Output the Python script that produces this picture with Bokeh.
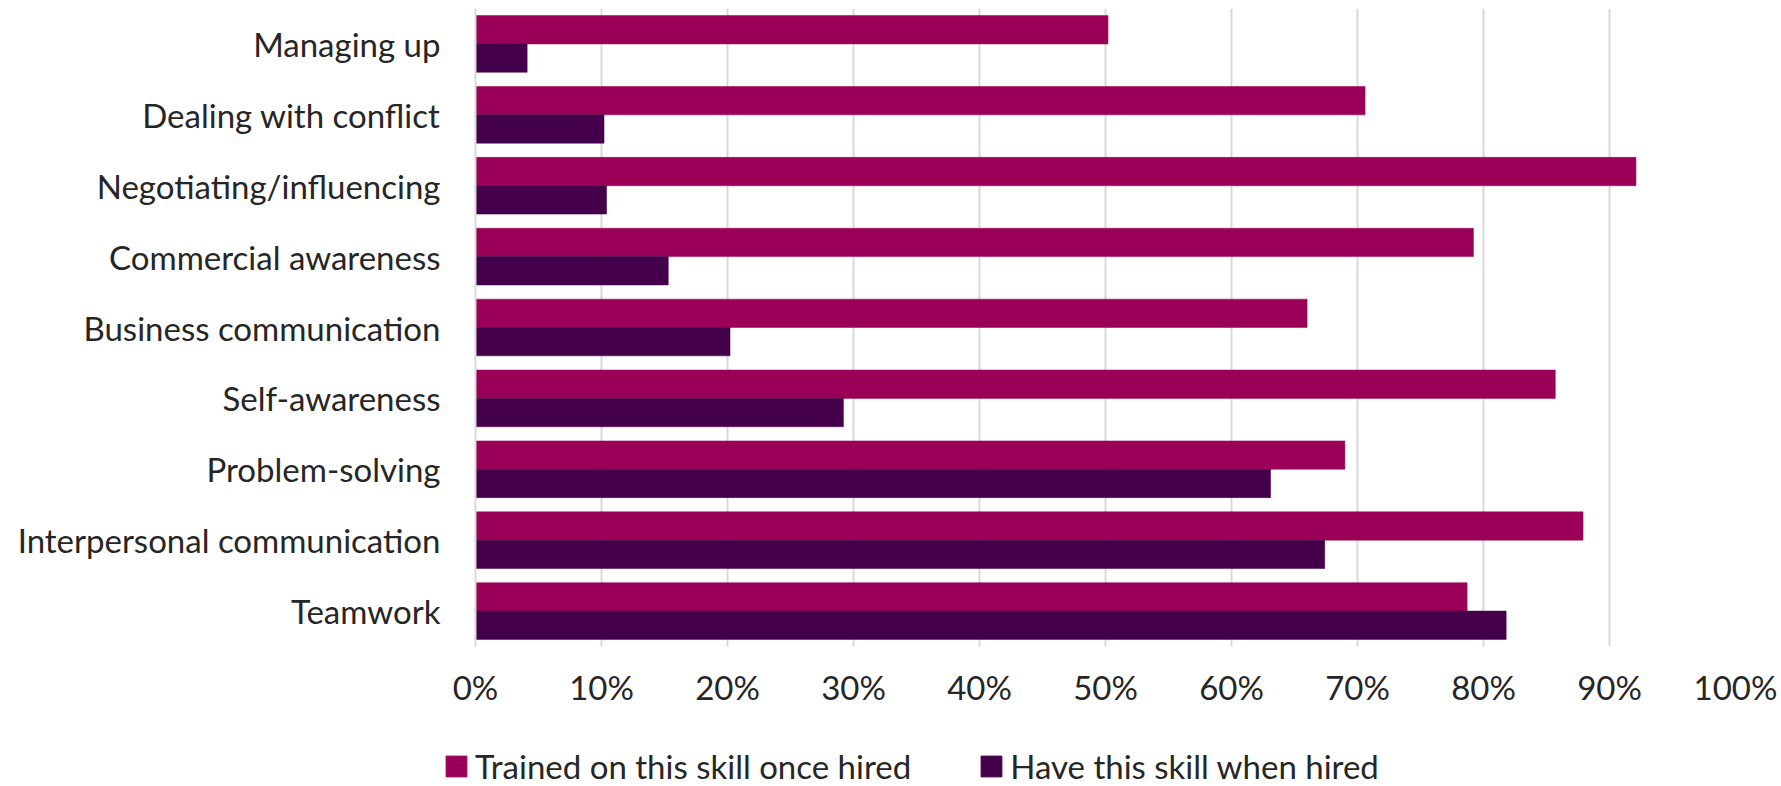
from bokeh.plotting import figure
from bokeh.models import (FactorRange, Range1d, Legend, LegendItem, FixedTicker,
                          PrintfTickFormatter, ColumnDataSource)
from bokeh.layouts import column
from bokeh.transform import dodge
from bokeh.embed import file_html
from bokeh.resources import INLINE

# ---- data (top to bottom as in the chart) ----
skills = ["Managing up", "Dealing with conflict", "Negotiating/influencing",
          "Commercial awareness", "Business communication", "Self-awareness",
          "Problem-solving", "Interpersonal communication", "Teamwork"]
trained = [50.2, 70.6, 92.1, 79.2, 66.0, 85.7, 69.0, 87.9, 78.7]
have = [4.1, 10.2, 10.4, 15.3, 20.2, 29.2, 63.1, 67.4, 81.8]
x_ticks = [0, 10, 20, 30, 40, 50, 60, 70, 80, 90, 100]
series_names = ["Trained on this skill once hired", "Have this skill when hired"]
colors = ["#9A0058", "#44004B"]

FONT = "Lato"
TXT = "#262626"
FS = "33px"

src = ColumnDataSource(dict(skill=skills, trained=trained, have=have))

factors = list(reversed(skills))
p = figure(width=1781, height=720, y_range=FactorRange(*factors, range_padding=0),
           x_range=Range1d(0, 100), output_backend="svg", toolbar_location=None,
           min_border_left=475, min_border_right=46, min_border_top=8,
           min_border_bottom=74)
p.outline_line_color = None
p.frame_align = False

p.hbar(y=dodge("skill", 0.2, range=p.y_range), right="trained", left=0, height=0.4,
       source=src, fill_color=colors[0], line_color=colors[0], line_width=0.5)
p.hbar(y=dodge("skill", -0.2, range=p.y_range), right="have", left=0, height=0.4,
       source=src, fill_color=colors[1], line_color=colors[1], line_width=0.5)

# x axis
p.xaxis.ticker = FixedTicker(ticks=x_ticks)
p.xaxis.formatter = PrintfTickFormatter(format="%d%%")
p.xaxis.axis_line_color = None
p.xaxis.major_tick_line_color = None
p.xaxis.minor_tick_line_color = None
p.xaxis.major_tick_out = 0
p.xaxis.major_tick_in = 0
p.xaxis.major_label_standoff = 20
p.xaxis.major_label_text_font = FONT
p.xaxis.major_label_text_font_size = FS
p.xaxis.major_label_text_color = TXT

# y axis
p.yaxis.axis_line_color = "#d9d9d9"
p.yaxis.axis_line_width = 2
p.yaxis.major_tick_line_color = None
p.yaxis.minor_tick_line_color = None
p.yaxis.major_tick_out = 0
p.yaxis.major_tick_in = 0
p.yaxis.major_label_standoff = 35
p.yaxis.major_label_text_font = FONT
p.yaxis.major_label_text_font_size = FS
p.yaxis.major_label_text_color = TXT

# grid
p.xgrid.grid_line_color = "#d9d9d9"
p.xgrid.grid_line_width = 2
p.ygrid.grid_line_color = None

# ---- legend strip (separate small figure below the chart) ----
pl = figure(width=1781, height=66, x_range=Range1d(0, 1), y_range=Range1d(0, 1),
            output_backend="svg", toolbar_location=None, x_axis_type=None,
            y_axis_type=None, min_border=0)
pl.outline_line_color = None
pl.grid.grid_line_color = None
pl.frame_align = False
# legend swatches only (kept outside the visible range)
lr1 = pl.hbar(y=[-5], right=[0], left=0, height=0.5, fill_color=colors[0], line_color=colors[0])
lr2 = pl.hbar(y=[-5], right=[0], left=0, height=0.5, fill_color=colors[1], line_color=colors[1])

legend = Legend(items=[LegendItem(label=series_names[0], renderers=[lr1]),
                       LegendItem(label=series_names[1], renderers=[lr2])],
                orientation="horizontal", location=(443, 0),
                glyph_width=26, glyph_height=26, label_height=26,
                label_standoff=6, spacing=67, padding=0, margin=0,
                border_line_color=None, background_fill_alpha=0,
                label_text_font=FONT, label_text_font_size=FS,
                label_text_color=TXT)
pl.add_layout(legend, "center")

layout = column(p, pl, spacing=0)
open("out.html", "w").write(file_html(layout, INLINE))
